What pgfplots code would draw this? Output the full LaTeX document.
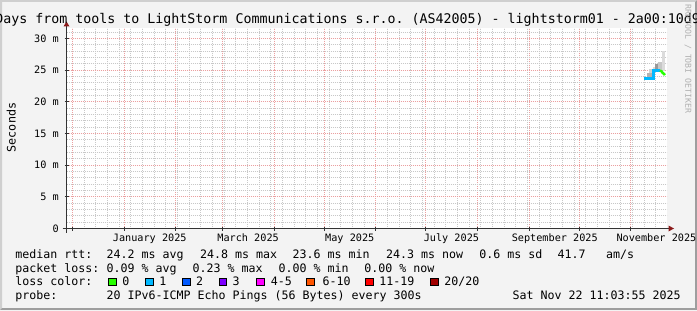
\documentclass[border=0pt]{standalone}
\usepackage{fontspec}
\setmainfont{DejaVu Sans Mono}
\usepackage{pgfplots}
\pgfplotsset{compat=1.18}
\definecolor{bgc}{HTML}{F3F3F3}
\definecolor{shadea}{HTML}{CFCFCF}
\definecolor{shadeb}{HTML}{9E9E9E}
\definecolor{majgrid}{HTML}{EBA0A0}
\definecolor{mingrid}{HTML}{C8C8C8}
\definecolor{arrowred}{HTML}{8B1A1A}
\definecolor{axiscol}{HTML}{333333}
\definecolor{wmark}{HTML}{B0B0B0}
\definecolor{loss0}{HTML}{26FF00}
\definecolor{loss1}{HTML}{00B8FF}
\definecolor{loss2}{HTML}{0059FF}
\definecolor{loss3}{HTML}{7E00FF}
\definecolor{loss4}{HTML}{FF00FF}
\definecolor{loss6}{HTML}{FF5500}
\definecolor{loss11}{HTML}{FF0000}
\definecolor{loss20}{HTML}{A10000}
\newcommand\fs[1]{\fontsize{#1bp}{#1bp}\selectfont}
\begin{document}
\frenchspacing
\begin{tikzpicture}[x=1bp,y=1bp]
\useasboundingbox (0,0) rectangle (697,310);
\clip (0,0) rectangle (697,310);
\fill[bgc] (0,0) rectangle (697,310);
\fill[shadea] (0,0) -- (0,310) -- (697,310) -- (695,308) -- (2,308) -- (2,2) -- cycle;
\fill[shadeb] (0,0) -- (697,0) -- (697,310) -- (695,308) -- (695,2) -- (2,2) -- cycle;
\begin{axis}[name=ax, at={(66.5bp,81.5bp)}, anchor=south west,
  scale only axis, width=600bp, height=200bp,
  xmin=-3.45, xmax=356.55, ymin=0, ymax=31.55,
  axis line style={draw=none},
  axis background/.style={fill=white},
  xtick={0,31,62,90,121,151,182,212,243,274,304,335},
  xticklabels={,,,,,,,,,,,},
  minor xtick={7,14,...,350},
  extra x ticks={46.5,105.5,166.5,227.5,289.5,350.5},
  extra x tick labels={January 2025,March 2025,May 2025,July 2025,September 2025,November 2025},
  extra x tick style={grid=none, major tick length=0pt},
  ytick={0,5,...,30},
  yticklabels={0,5 m,10 m,15 m,20 m,25 m,30 m},
  minor ytick={1,2,3,4,6,7,8,9,11,12,13,14,16,17,18,19,21,22,23,24,26,27,28,29,31},
  xmajorgrids, xminorgrids, ymajorgrids, yminorgrids,
  major grid style={draw=majgrid, line width=0.8bp, dash pattern=on 1bp off 1bp},
  minor grid style={draw=mingrid, line width=0.8bp, dash pattern=on 1bp off 1bp},
  xtick pos=left, ytick pos=left,
  tick align=center, major tick length=4bp, minor tick length=0pt,
  tick style={axiscol, line width=0.8bp},
  xticklabel style={font=\fs{10.2}, anchor=base, yshift=-12.7bp, inner sep=0pt},
  yticklabel style={font=\fs{10.2}, anchor=east, xshift=-5.5bp, inner sep=0pt},
]
% smoke (min-max ranges of the pings)
\addplot[fill=black!30, draw=none] coordinates {(344.6,23.6) (348.6,23.6) (348.6,24.6) (344.6,24.6)} -- cycle;
\addplot[fill=black!18, draw=none] coordinates {(345.8,24.6) (348.2,24.6) (348.2,25.1) (345.8,25.1)} -- cycle;
\addplot[fill=black!60, draw=none] coordinates {(347.6,23.8) (348.6,23.8) (348.6,24.9) (347.6,24.9)} -- cycle;
\addplot[fill=black!15, draw=none] coordinates {(348.6,24.9) (352.4,24.9) (352.4,25.4) (348.6,25.4)} -- cycle;
\addplot[fill=black!40, draw=none] coordinates {(349.6,24.9) (351.6,24.9) (351.6,25.9) (349.6,25.9)} -- cycle;
\addplot[fill=black!22, draw=none] coordinates {(351.6,24.9) (354.0,24.9) (354.0,26.2) (351.6,26.2)} -- cycle;
\addplot[fill=black!14, draw=none] coordinates {(354.0,24.9) (355.4,24.9) (355.4,28.0) (354.0,28.0)} -- cycle;
% median rtt coloured by loss
\addplot[loss1, line width=2.5bp, mark=none] coordinates {(343.0,23.7) (348.6,23.7) (348.6,24.9) (352.6,24.9)};
\addplot[loss0, line width=2.5bp, mark=none] coordinates {(352.6,24.9) (353.6,24.8) (354.2,24.55) (355.0,24.4) (355.6,24.2)};
\end{axis}
% axes with arrows
\draw[axiscol, line width=1bp] ([xshift=-4bp]ax.south west) -- ([xshift=2bp]ax.south east);
\draw[axiscol, line width=1bp] ([yshift=-4bp]ax.south west) -- ([yshift=2bp]ax.north west);
\fill[arrowred] ([xshift=2bp,yshift=-3bp]ax.south east) -- ([xshift=7.5bp]ax.south east) -- ([xshift=2bp,yshift=3bp]ax.south east) -- cycle;
\fill[arrowred] ([xshift=-3bp,yshift=2bp]ax.north west) -- ([yshift=7bp]ax.north west) -- ([xshift=3bp,yshift=2bp]ax.north west) -- cycle;
% title
\node[anchor=base west, inner sep=0pt, font=\fs{13.3}] at (-4.9,286.2) {Days from tools to LightStorm Communications s.r.o. (AS42005) - lightstorm01 - 2a00:10d9};
% y label
\node[rotate=90, inner sep=0pt, font=\fs{11.7}] at (11.3,182.5) {Seconds};
% watermark
\node[rotate=-90, inner sep=0pt, font=\fs{8.2}, text=wmark] at (688,251) {RRDTOOL / TOBI OETIKER};
% legend
\begin{scope}[every node/.style={anchor=base west, inner sep=0pt, font=\fs{11.63}}]
\node at (15.1,52) {median rtt:};
\node at (106.4,52) {24.2 ms avg};
\node at (199.8,52) {24.8 ms max};
\node at (292.4,52) {23.6 ms min};
\node at (385.8,52) {24.3 ms now};
\node at (479.1,52) {0.6 ms sd};
\node at (557.4,52) {41.7};
\node at (605.8,52) {am/s};
\node at (15.1,38) {packet loss:};
\node at (106.4,38) {0.09 \% avg};
\node at (192.4,38) {0.23 \% max};
\node at (278.4,38) {0.00 \% min};
\node at (364.1,38) {0.00 \% now};
\node at (15.1,24.5) {loss color:};
\node at (122.2,24.5) {0};
\node at (159.2,24.5) {1};
\node at (195.8,24.5) {2};
\node at (232.4,24.5) {3};
\node at (270.6,24.5) {4-5};
\node at (322.3,24.5) {6-10};
\node at (379.1,24.5) {11-19};
\node at (444.1,24.5) {20/20};
\node at (15.1,10.5) {probe:};
\node at (106.4,10.5) {20 IPv6-ICMP Echo Pings (56 Bytes) every 300s};
\node at (512.4,10.5) {Sat Nov 22 11:03:55 2025};
\end{scope}
\foreach \xx/\cc in {108.3/loss0,145.7/loss1,182.3/loss2,219/loss3,256.7/loss4,306.7/loss6,365.7/loss11,430.7/loss20}
  \filldraw[fill=\cc, draw=black, line width=0.8bp] (\xx,24.3) rectangle ++(7.6,7.6);
\end{tikzpicture}
\end{document}
